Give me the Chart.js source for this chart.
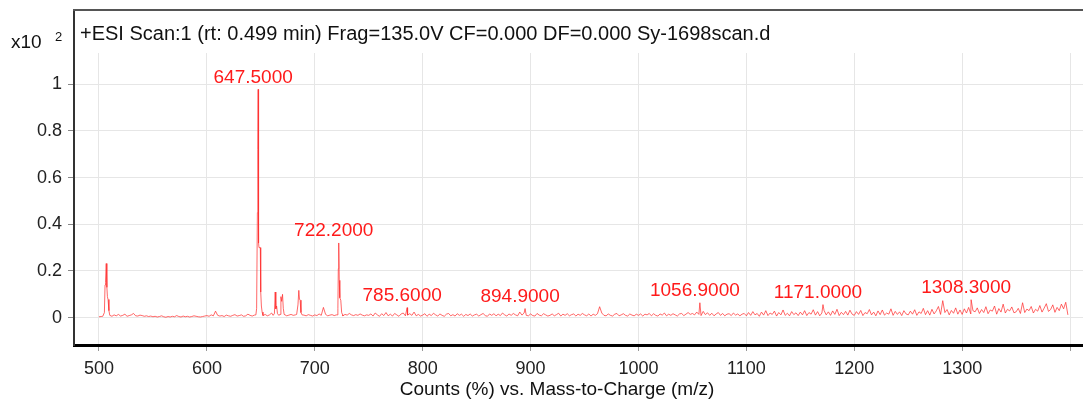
<!DOCTYPE html>
<html>
<head>
<meta charset="utf-8">
<title>ESI scan</title>
<script src="https://cdn.jsdelivr.net/npm/chart.js@4.4.1/dist/chart.umd.min.js"></script>
<style>
  html, body { margin: 0; padding: 0; background: #fff; }
  #wrap { width: 1083px; height: 402px; position: relative; }
</style>
</head>
<body>
<div id="wrap"><canvas id="spectrum" width="1083" height="402"></canvas></div>
<script>
const FONT = "Arial, 'Liberation Sans', sans-serif";

const scanTitle = "+ESI Scan:1 (rt: 0.499 min) Frag=135.0V CF=0.000 DF=0.000 Sy-1698scan.d";
const xTitle = "Counts (%) vs. Mass-to-Charge (m/z)";

// noise trace, one reading every 2 m/z from 500 (counts x10^2, thousandths)
const baseStart = 500;
const baseStep = 2;
const baseline = [
  4, 5, 6, 8, 10, 9, 6, 12, 8, 14, 7, 10, 15, 6, 9, 12, 18, 8, 7, 11, 9, 6, 8, 5, 7,
  4, 6, 3, 5, 8, 4, 2, 5, 3, 6, 4, 9, 5, 3, 7, 4, 6, 3, 5, 8, 6, 4, 3, 5, 7,
  9, 6, 12, 8, 28, 10, 7, 9, 5, 11, 8, 6, 10, 13, 7, 9, 12, 6, 8, 15, 10, 7, 11, 9, 14,
  18, 9, 14, 8, 12, 20, 15, 10, 12, 16, 9, 13, 8, 11, 14, 10, 12, 18, 9, 15, 11, 8, 13, 10, 7,
  12, 9, 16, 10, 44, 14, 8, 11, 13, 9, 12, 10, 15, 8, 14, 11, 18, 12, 9, 13, 10, 16, 11, 8, 12,
  10, 16, 7, 20, 12, 6, 17, 9, 22, 8, 15, 7, 18, 12, 6, 16, 20, 8, 11, 17, 10, 24, 8, 14, 7,
  11, 17, 6, 15, 9, 19, 12, 7, 16, 10, 6, 15, 18, 8, 13, 7, 17, 10, 15, 6, 14, 9, 16, 7, 12,
  15, 7, 13, 18, 9, 6, 16, 10, 17, 8, 15, 9, 20, 12, 7, 16, 10, 18, 12, 8, 24, 11, 20, 10, 8,
  16, 9, 7, 18, 11, 8, 17, 12, 7, 10, 16, 8, 13, 19, 7, 15, 10, 17, 8, 13, 16, 7, 15, 10, 18,
  12, 8, 16, 7, 15, 10, 17, 47, 20, 10, 8, 16, 10, 7, 15, 18, 8, 12, 17, 10, 7, 16, 11, 8, 15,
  10, 16, 7, 15, 12, 18, 8, 17, 10, 7, 16, 11, 20, 8, 15, 10, 17, 12, 7, 16, 18, 9, 15, 22, 14,
  18, 12, 24, 14, 9, 27, 13, 21, 10, 19, 8, 16, 22, 10, 18, 8, 15, 17, 9, 20, 11, 16, 8, 15, 18,
  8, 22, 10, 26, 12, 18, 6, 24, 11, 30, 9, 20, 14, 28, 7, 22, 12, 33, 10, 19, 8, 26, 13, 21, 9,
  24, 12, 30, 9, 22, 15, 34, 11, 26, 8, 20, 31, 12, 25, 10, 29, 14, 36, 9, 23, 13, 27, 11, 32, 15,
  10, 26, 14, 31, 9, 22, 17, 35, 12, 24, 8, 29, 13, 33, 11, 20, 15, 38, 10, 27, 14, 25, 9, 30, 16,
  12, 28, 15, 34, 10, 25, 18, 40, 13, 30, 11, 36, 16, 29, 48, 14, 73, 22, 35, 12, 31, 19, 42, 15, 33,
  14, 38, 20, 44, 16, 30, 25, 42, 18, 35, 22, 47, 17, 33, 28, 50, 15, 39, 24, 58, 20, 36, 29, 46, 21,
  25, 40, 18, 64, 22, 37, 30, 48, 20, 36, 28, 52, 24, 41, 60, 27, 35, 55, 23, 44, 30, 58, 38, 66, 12
];

// [m/z, thousandths] outlines of the real peaks, these replace the noise readings they cover
const peakShapes = [
  [[503.5, 6], [505, 22], [505.6, 140], [506, 150], [506.7, 232], [507.3, 130], [507.8, 90], [508.4, 78], [509.2, 30], [510, 10]],
  [[645.4, 12], [646.1, 40], [646.8, 450], [647.2, 720], [647.5, 978], [647.9, 320], [648.3, 300], [649.5, 300], [649.9, 110], [650.5, 50], [651.2, 24]],
  [[661.4, 10], [662.6, 18], [663.3, 110], [663.9, 38], [664.6, 50], [665.4, 18], [666.6, 10], [667.8, 14], [668.6, 90], [669.3, 70], [670.1, 100], [670.8, 40], [671.6, 14]],
  [[683.2, 14], [684.4, 55], [685.2, 117], [685.8, 80], [686.4, 75], [687.2, 22], [688.2, 12]],
  [[720.6, 12], [721.4, 40], [721.8, 210], [722.2, 320], [722.7, 160], [723.2, 85], [724.1, 75], [724.9, 22], [725.8, 12]],
  [[785.6, 43]],
  [[894.9, 39]],
  [[1056.9, 64]],
  [[1171.0, 56]],
  [[1308.3, 77]]
];

const peakLabels = [647.5, 722.2, 785.6, 894.9, 1056.9, 1171.0, 1308.3];

function buildSpectrum() {
  const ranges = peakShapes.map((p) => [p[0][0], p[p.length - 1][0]]);
  const points = [];
  baseline.forEach((v, i) => {
    const mz = baseStart + i * baseStep;
    if (ranges.some(([a, b]) => mz >= a && mz <= b)) return;
    points.push({ x: mz, y: v / 1000 });
  });
  peakShapes.forEach((shape) => shape.forEach(([mz, v]) => points.push({ x: mz, y: v / 1000 })));
  return points.sort((a, b) => a.x - b.x);
}

const spectrum = buildSpectrum();

// header strip, exponent marker, axis title, top rule and the peak annotations
const decorations = {
  id: "decorations",
  beforeDatasetsDraw(chart) {
    const { ctx, chartArea: a } = chart;
    ctx.save();
    // grid does not run up into the header strip
    ctx.fillStyle = "#fff";
    ctx.fillRect(a.left + 2, a.top + 1, a.right - a.left, 53 - a.top - 1);

    ctx.fillStyle = "#111";
    ctx.textBaseline = "middle";
    ctx.font = "20px " + FONT;
    ctx.fillText(scanTitle, 80, 34);
    ctx.font = "19px " + FONT;
    ctx.fillText("x10", 11, 43);
    ctx.font = "13px " + FONT;
    ctx.fillText("2", 55, 37);

    ctx.font = "19px " + FONT;
    ctx.textAlign = "center";
    ctx.fillText(xTitle, 557, 390);

    ctx.strokeStyle = "#555";
    ctx.lineWidth = 2;
    ctx.beginPath();
    ctx.moveTo(a.left - 1, a.top);
    ctx.lineTo(a.right, a.top);
    ctx.stroke();
    ctx.restore();
  },
  afterDatasetsDraw(chart) {
    const { ctx } = chart;
    const x = chart.scales.x;
    const y = chart.scales.y;
    ctx.save();
    ctx.fillStyle = "#ff1a1a";
    ctx.font = "19px " + FONT;
    ctx.textAlign = "center";
    ctx.textBaseline = "middle";
    peakLabels.forEach((mz) => {
      const point = spectrum.find((p) => p.x === mz);
      if (!point) return;
      ctx.fillText(mz.toFixed(4), x.getPixelForValue(mz) - 5, y.getPixelForValue(point.y) - 12);
    });
    ctx.restore();
  }
};

new Chart(document.getElementById("spectrum"), {
  type: "line",
  data: {
    datasets: [
      {
        data: spectrum,
        borderColor: "rgba(255, 45, 45, 0.72)",
        borderWidth: 1,
        pointRadius: 0,
        tension: 0,
        fill: false
      }
    ]
  },
  options: {
    responsive: false,
    animation: false,
    events: [],
    layout: { padding: { top: 10, left: 0, right: 0, bottom: 0 } },
    plugins: { legend: { display: false }, tooltip: { enabled: false } },
    scales: {
      x: {
        type: "linear",
        min: 476.83,
        max: 1412.0,
        afterFit: (scale) => {
          scale.height = 57;
          scale.paddingLeft = 0;
          scale.paddingRight = 0;
        },
        afterBuildTicks: (scale) => { scale.ticks = scale.ticks.filter((t) => t.value >= 500 && t.value <= 1400); },
        ticks: {
          stepSize: 100,
          includeBounds: false,
          autoSkip: false,
          maxRotation: 0,
          padding: 7,
          color: "#222",
          font: { family: FONT, size: 18 },
          callback: (v) => (v === 1400 ? "" : String(v))
        },
        grid: { color: "#e6e6e6", lineWidth: 1, tickLength: 6, tickColor: "#999" },
        border: { color: "#000", width: 3 }
      },
      y: {
        min: -0.117,
        max: 1.318,
        afterFit: (scale) => {
          scale.width = 74;
          scale.paddingTop = 0;
          scale.paddingBottom = 0;
        },
        afterBuildTicks: (scale) => { scale.ticks = scale.ticks.filter((t) => t.value >= 0 && t.value <= 1.0001); },
        ticks: {
          stepSize: 0.2,
          includeBounds: false,
          padding: 6,
          color: "#222",
          font: { family: FONT, size: 18 },
          callback: (v) => String(Math.round(v * 10) / 10)
        },
        grid: { color: "#e6e6e6", lineWidth: 1, tickLength: 6, tickColor: "#888" },
        border: { color: "#333", width: 2 }
      }
    }
  },
  plugins: [decorations]
});
</script>
</body>
</html>
